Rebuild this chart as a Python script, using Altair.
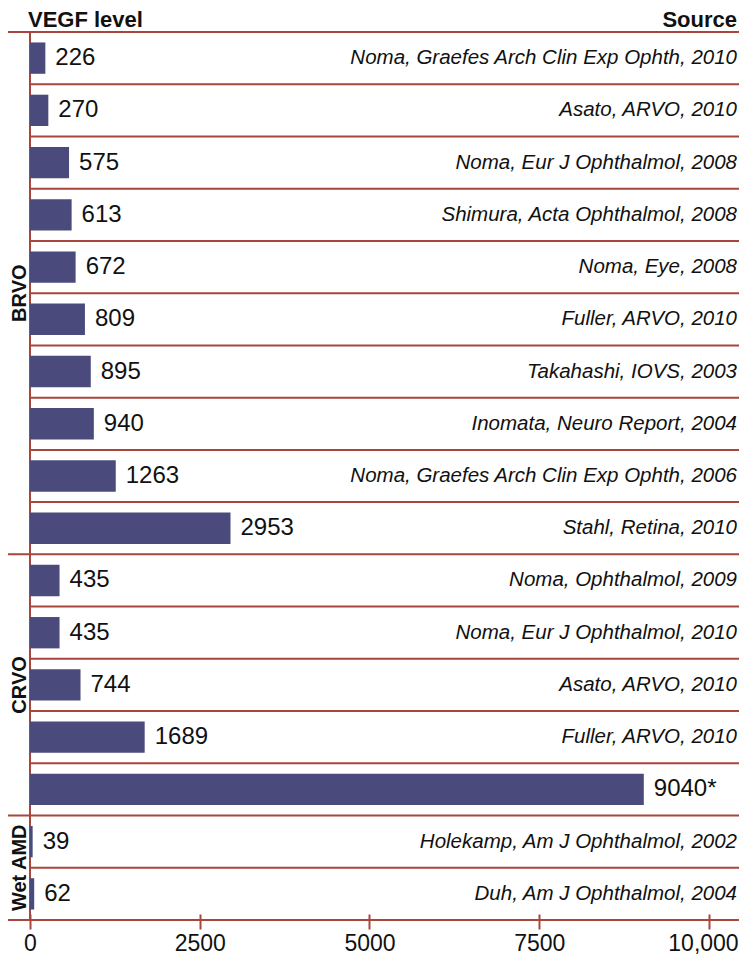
import altair as alt
import pandas as pd

# ---- data ----
groups = ["BRVO"] * 10 + ["CRVO"] * 5 + ["Wet AMD"] * 2
values = [226, 270, 575, 613, 672, 809, 895, 940, 1263, 2953,
          435, 435, 744, 1689, 9040,
          39, 62]
value_labels = ["226", "270", "575", "613", "672", "809", "895", "940", "1263", "2953",
                "435", "435", "744", "1689", "9040*",
                "39", "62"]
sources = [
    "Noma, Graefes Arch Clin Exp Ophth, 2010",
    "Asato, ARVO, 2010",
    "Noma, Eur J Ophthalmol, 2008",
    "Shimura, Acta Ophthalmol, 2008",
    "Noma, Eye, 2008",
    "Fuller, ARVO, 2010",
    "Takahashi, IOVS, 2003",
    "Inomata, Neuro Report, 2004",
    "Noma, Graefes Arch Clin Exp Ophth, 2006",
    "Stahl, Retina, 2010",
    "Noma, Ophthalmol, 2009",
    "Noma, Eur J Ophthalmol, 2010",
    "Asato, ARVO, 2010",
    "Fuller, ARVO, 2010",
    "",
    "Holekamp, Am J Ophthalmol, 2002",
    "Duh, Am J Ophthalmol, 2004",
]
group_names = ["BRVO", "CRVO", "Wet AMD"]
x_ticks = [0, 2500, 5000, 7500, 10000]
header_left = "VEGF level"
header_right = "Source"

# ---- tables ----
keys = [f"r{i}" for i in range(len(values))]
first = [i == 0 or groups[i] != groups[i - 1] for i in range(len(groups))]
df = pd.DataFrame({"key": keys, "group": groups, "value": values,
                   "label": value_labels, "source": sources, "first": first})

gstart, gcount = [], []
for g in group_names:
    idx = [i for i, gg in enumerate(groups) if gg == g]
    gstart.append(idx[0])
    gcount.append(len(idx))
gdf = pd.DataFrame({"group": group_names,
                    "center": [s + c / 2 for s, c in zip(gstart, gcount)]})

# ---- style ----
W, H = 709, 888
LINE = "#a8463d"
BAR = "#4b4a7c"
TXT = "#111111"
FONT = "Liberation Sans"
LEFT_PAD = 22

xs = alt.Scale(domain=[0, 10442], nice=False, zero=True)
ys = alt.Scale(domain=keys, paddingInner=0, paddingOuter=0)

base = alt.Chart(df)

bars = base.mark_bar(color=BAR, height=alt.RelativeBandSize(0.6)).encode(
    x=alt.X("value:Q", scale=xs,
            axis=alt.Axis(values=x_ticks, title=None, grid=False, domain=False,
                          tickColor=LINE, tickWidth=2, tickSize=15, offset=-6,
                          labelFontSize=23, labelColor=TXT, labelFont=FONT,
                          labelPadding=3, labelFlush=False,
                          labelOffset={"condition": {"test": "datum.value >= 10000", "value": -6},
                                       "value": 0},
                          labelExpr="datum.value >= 10000 ? format(datum.value, ',') : format(datum.value, 'd')")),
    y=alt.Y("key:N", scale=ys, axis=None),
)

vals = base.mark_text(align="left", baseline="middle", dx=10, fontSize=24,
                      font=FONT, color=TXT).encode(
    x=alt.X("value:Q", scale=xs),
    y=alt.Y("key:N", scale=ys, axis=None),
    text="label:N",
)

srcs = base.mark_text(align="right", baseline="middle", fontSize=20.5, fontStyle="italic",
                      font=FONT, color=TXT).encode(
    x=alt.value(W - 2),
    y=alt.Y("key:N", scale=ys, axis=None),
    text="source:N",
)

inner_rules = base.transform_filter("!datum.first").mark_rule(color=LINE, strokeWidth=2).encode(
    y=alt.Y("key:N", scale=ys, axis=None, bandPosition=0),
    x=alt.value(0), x2=alt.value(W),
)
group_rules = base.transform_filter("datum.first").mark_rule(color=LINE, strokeWidth=2).encode(
    y=alt.Y("key:N", scale=ys, axis=None, bandPosition=0),
    x=alt.value(-LEFT_PAD), x2=alt.value(W),
)

one = alt.Data(values=[{"l": header_left, "r": header_right}])
bottom_rule = alt.Chart(one).mark_rule(color=LINE, strokeWidth=2).encode(
    y=alt.value(H), x=alt.value(-LEFT_PAD), x2=alt.value(W))
vert_rule = alt.Chart(one).mark_rule(color=LINE, strokeWidth=2).encode(
    x=alt.value(0), y=alt.value(0), y2=alt.value(H))

title_l = alt.Chart(one).mark_text(align="left", baseline="alphabetic", fontSize=22,
                                   fontWeight="bold", font=FONT, color=TXT).encode(
    x=alt.value(-2), y=alt.value(-5), text="l:N")
title_r = alt.Chart(one).mark_text(align="right", baseline="alphabetic", fontSize=22,
                                   fontWeight="bold", font=FONT, color=TXT).encode(
    x=alt.value(W - 2), y=alt.value(-5), text="r:N")

main = alt.layer(inner_rules, group_rules, bottom_rule, vert_rule, bars, vals, srcs,
                 title_l, title_r)

glabels = alt.Chart(gdf).mark_text(angle=270, align="center", baseline="middle",
                                   fontSize=20, fontWeight="bold", font=FONT, color=TXT).encode(
    x=alt.value(-10),
    y=alt.Y("center:Q", scale=alt.Scale(domain=[0, len(values)], reverse=True,
                                         nice=False, zero=False), axis=None),
    text="group:N",
)

chart = alt.layer(main, glabels).resolve_scale(y="independent").properties(
    width=W, height=H,
    padding={"left": LEFT_PAD, "top": 24, "right": 0, "bottom": 34},
    autosize=alt.AutoSizeParams(type="none"),
).configure_view(stroke=None)

chart.save("out.html", embed_options={"renderer": "svg", "actions": False})
